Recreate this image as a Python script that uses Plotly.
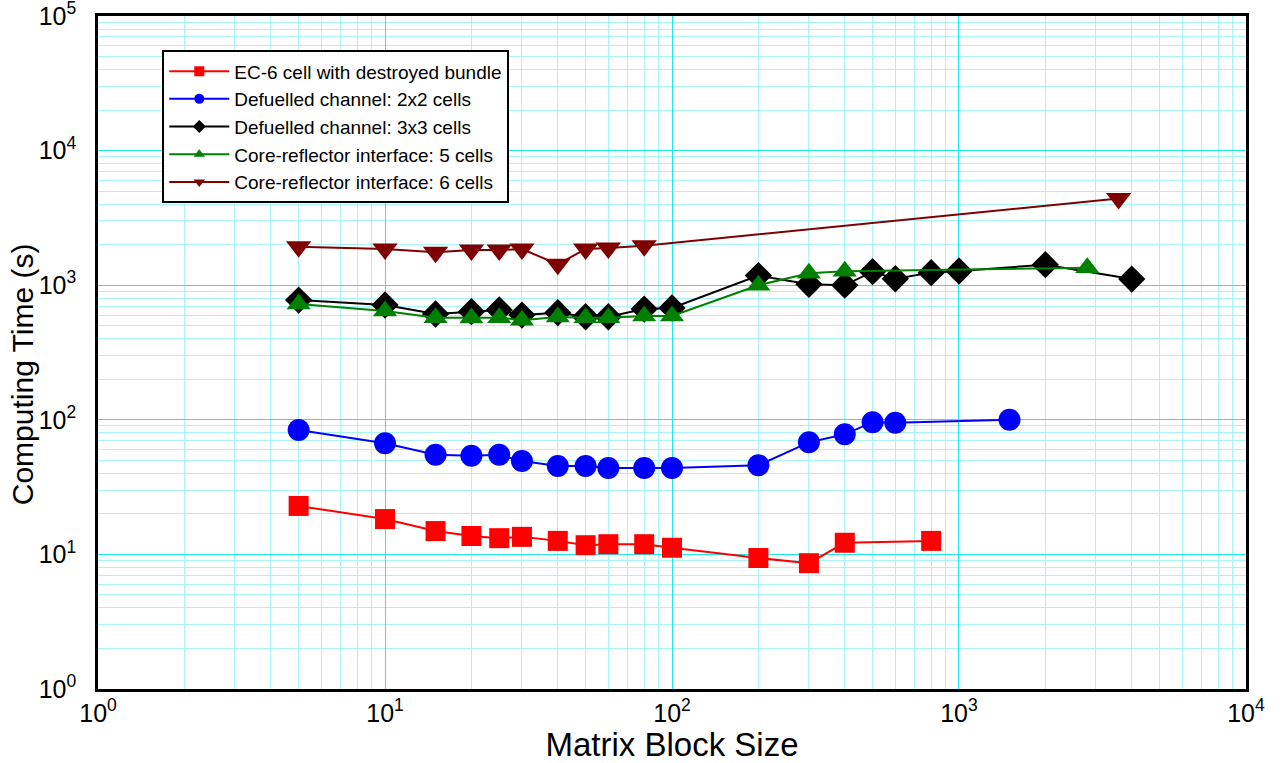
import plotly.graph_objects as go

# ---- data ----
x_red = [5, 10, 15, 20, 25, 30, 40, 50, 60, 80, 100, 200, 300, 400, 800]
y_red = [22.9, 18.3, 14.9, 13.7, 13.2, 13.5, 12.6, 11.7, 11.9, 11.9, 11.2, 9.4, 8.6, 12.2, 12.6]

x_blue = [5, 10, 15, 20, 25, 30, 40, 50, 60, 80, 100, 200, 300, 400, 500, 600, 1500]
y_blue = [84, 67, 55, 54, 55, 49.4, 45.4, 45.4, 43.8, 43.8, 43.8, 46, 68, 78, 96, 95, 100]

x_black = [5, 10, 15, 20, 25, 30, 40, 50, 60, 80, 100, 200, 300, 400, 500, 600, 800, 1000, 2000, 4000]
y_black = [776, 713, 611, 636, 655, 600, 625, 583, 583, 665, 677, 1180, 1016, 1000, 1260, 1117, 1240, 1275, 1420, 1110]

x_green = [5, 10, 15, 20, 25, 30, 40, 50, 60, 80, 100, 200, 300, 400, 2800]
y_green = [725, 643, 574, 570, 574, 550, 580, 574, 574, 590, 590, 1000, 1225, 1268, 1350]

x_brown = [5, 10, 15, 20, 25, 30, 40, 50, 60, 80, 3600]
y_brown = [1933, 1858, 1755, 1825, 1825, 1858, 1430, 1858, 1890, 1965, 4400]

names = ["EC-6 cell with destroyed bundle",
         "Defuelled channel: 2x2 cells",
         "Defuelled channel: 3x3 cells",
         "Core-reflector interface: 5 cells",
         "Core-reflector interface: 6 cells"]

x_tickvals = [1, 10, 100, 1000, 10000]
x_ticktext = ["10<sup>0</sup>", "10<sup>1</sup>", "10<sup>2</sup>", "10<sup>3</sup>", "10<sup>4</sup>"]
y_tickvals = [1, 10, 100, 1000, 10000, 100000]
y_ticktext = ["10<sup>0</sup>", "10<sup>1</sup>", "10<sup>2</sup>", "10<sup>3</sup>", "10<sup>4</sup>", "10<sup>5</sup>"]

x_title = "Matrix Block Size"
y_title = "Computing Time (s)"

series = [
    (x_red, y_red, "#ff0000", "square", 20),
    (x_blue, y_blue, "#0000ff", "circle", 22),
    (x_black, y_black, "#000000", "diamond", 21),
    (x_green, y_green, "#008000", "triangle-up", 21),
    (x_brown, y_brown, "#800000", "triangle-down", 22),
]

FONT = "Liberation Sans, Arial, sans-serif"

fig = go.Figure()
for (xs, ys, col, sym, size), nm in zip(series, names):
    fig.add_trace(go.Scatter(
        x=xs, y=ys, mode="lines+markers", name=nm, showlegend=False,
        line=dict(color=col, width=2),
        marker=dict(symbol=sym, size=size, color=col),
    ))
# legend-only entries with small markers
for (xs, ys, col, sym, size), nm in zip(series, names):
    fig.add_trace(go.Scatter(
        x=[None], y=[None], mode="lines+markers", name=nm, showlegend=True,
        line=dict(color=col, width=2),
        marker=dict(symbol=sym, size=10, color=col),
    ))

fig.update_layout(
    width=1283, height=763,
    margin=dict(l=98, r=37, t=16, b=74, autoexpand=False),
    paper_bgcolor="white", plot_bgcolor="white",
    font=dict(family=FONT, color="black"),
    legend=dict(
        x=0.056, y=0.949, xanchor="left", yanchor="top",
        bgcolor="white", bordercolor="black", borderwidth=2,
        font=dict(size=19, family=FONT),
        itemwidth=60,
    ),
    annotations=[dict(
        text=y_title, xref="paper", yref="paper",
        x=-0.066, y=0.468, xanchor="center", yanchor="middle",
        textangle=-90, showarrow=False,
        font=dict(size=30, family=FONT, color="black"),
    )],
)

fig.update_xaxes(
    type="log", range=[-0.0002, 4.0002], automargin=False,
    tickvals=x_tickvals, ticktext=x_ticktext, ticklabeloverflow="allow",
    tickfont=dict(size=25, family=FONT),
    showline=True, linecolor="black", linewidth=2.5, mirror=True,
    showgrid=True, gridcolor="#1ee8f0", gridwidth=1,
    minor=dict(showgrid=True, gridcolor="#a8f4f6", gridwidth=1, dtick="D1"),
    ticks="", zeroline=False,
    title=dict(text=x_title, font=dict(size=33, family=FONT), standoff=2),
)
fig.update_yaxes(
    type="log", range=[-0.0002, 5.0002], automargin=False,
    tickvals=y_tickvals, ticktext=y_ticktext, ticklabeloverflow="allow",
    tickfont=dict(size=25, family=FONT),
    showline=True, linecolor="black", linewidth=2.5, mirror=True,
    showgrid=True, gridcolor="#1ee8f0", gridwidth=1,
    minor=dict(showgrid=True, gridcolor="#a8f4f6", gridwidth=1, dtick="D1"),
    ticks="", zeroline=False, ticklabelstandoff=14,
)

fig.write_html("out.html")
